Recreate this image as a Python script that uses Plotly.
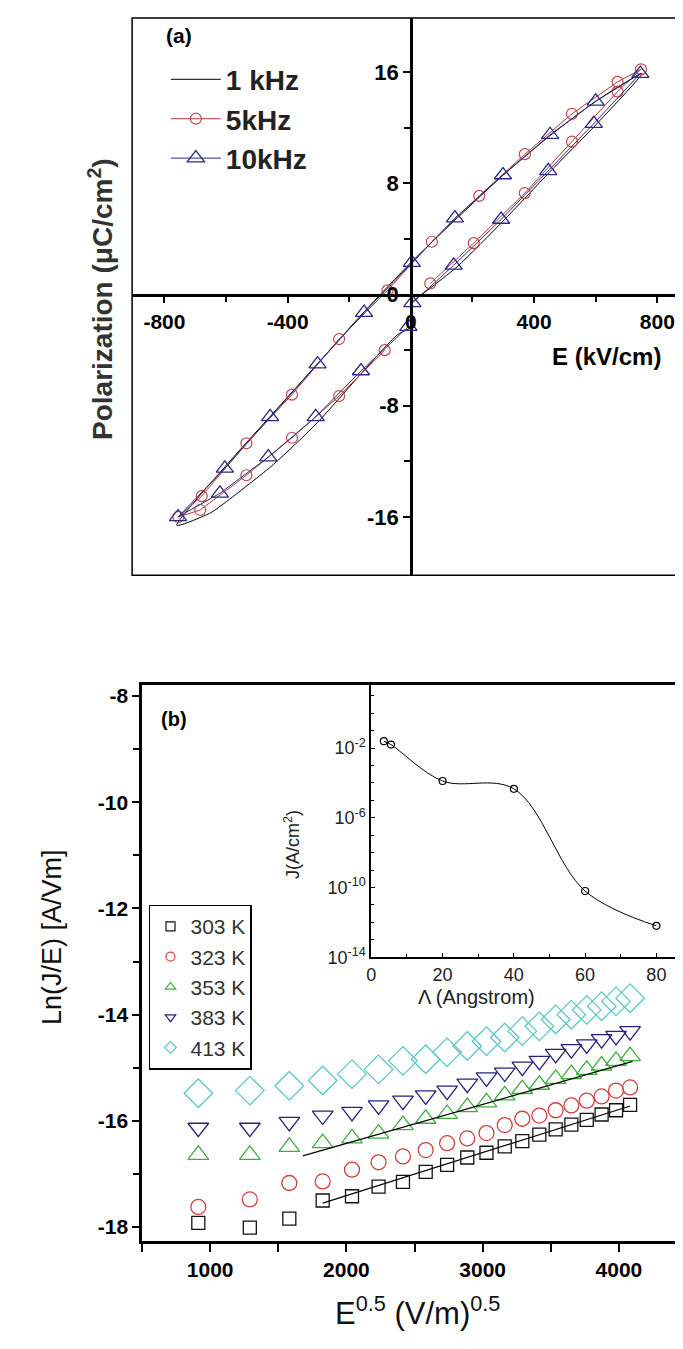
import plotly.graph_objects as go

W, H = 683, 1349
FONT = "Liberation Sans, Arial, sans-serif"

# ---------------- Panel (a): P-E hysteresis ----------------
E_1k = [0, 150, 300, 450, 600, 750, 600, 450, 300, 150, 0, -150, -300, -450, -600, -760,
        -650, -599, -445, -303, -162, -44, 0]
P_1k = [-0.6, 2.0, 5.3, 8.8, 12.2, 15.9, 13.9, 11.4, 8.6, 5.5, 2.3, -1.2, -4.9, -8.6, -12.3, -16.6,
        -15.7, -14.9, -12.2, -9.2, -5.7, -2.9, -2.4]

E_5k = [63, 204, 370, 523, 671, 747, 671, 523, 370, 222, 68, -76, -233, -386, -534, -679, -755,
        -684, -534, -386, -233, -85]
P_5k = [0.8, 3.7, 7.3, 11.0, 14.6, 16.2, 15.3, 13.0, 10.1, 7.1, 3.8, 0.3, -3.2, -7.2, -10.7, -14.5, -16.0,
        -15.5, -13.0, -10.3, -7.3, -4.0]

E_10k = [5, 139, 293, 446, 594, 745, 600, 452, 299, 143, 3, -152, -303, -457, -604, -756,
         -620, -463, -309, -162, -8]
P_10k = [-0.6, 2.1, 5.4, 8.9, 12.3, 15.9, 13.9, 11.5, 8.6, 5.5, 2.3, -1.3, -5.0, -8.8, -12.5, -16.0,
         -14.3, -11.7, -8.8, -5.5, -2.3]

a_xticks = [-800, -400, 0, 400, 800]
a_xticktext = ["-800", "-400", "0", "400", "800"]
a_yticks = [-16, -8, 0, 8, 16]
a_yticktext = ["-16", "-8", "0", "8", "16"]

# ---------------- Panel (b): Ln(J/E) vs E^0.5 ----------------
sqrtE = [913, 1291, 1581, 1826, 2041, 2236, 2415, 2582, 2739, 2887,
         3028, 3162, 3291, 3416, 3536, 3651, 3764, 3873, 3979, 4082]
ln_303 = [-17.92, -18.01, -17.84, -17.50, -17.42, -17.24, -17.15, -16.96, -16.83, -16.69,
          -16.60, -16.48, -16.38, -16.26, -16.16, -16.07, -15.98, -15.88, -15.80, -15.70]
ln_323 = [-17.62, -17.48, -17.17, -17.14, -16.92, -16.78, -16.67, -16.55, -16.42, -16.33,
          -16.23, -16.08, -15.96, -15.90, -15.80, -15.71, -15.62, -15.54, -15.43, -15.37]
ln_353 = [-16.64, -16.64, -16.49, -16.42, -16.33, -16.24, -16.08, -15.96, -15.87, -15.74,
          -15.65, -15.52, -15.40, -15.32, -15.21, -15.12, -15.04, -14.96, -14.87, -14.78]
ln_383 = [-16.13, -16.13, -16.02, -15.90, -15.83, -15.71, -15.62, -15.52, -15.43, -15.30,
          -15.18, -15.09, -14.98, -14.87, -14.74, -14.65, -14.56, -14.46, -14.40, -14.31]
ln_413 = [-15.48, -15.43, -15.34, -15.24, -15.12, -15.03, -14.87, -14.84, -14.71, -14.59,
          -14.50, -14.43, -14.31, -14.22, -14.09, -14.00, -13.91, -13.84, -13.75, -13.69]
temps = ["303 K", "323 K", "353 K", "383 K", "413 K"]

fit303_x = [1826, 4082]
fit303_y = [-17.55, -15.72]
fit353_x = [1680, 4100]
fit353_y = [-16.66, -14.88]

b_xticks = [1000, 2000, 3000, 4000]
b_yticks = [-18, -16, -14, -12, -10, -8]
b_yticktext = ["-18", "-16", "-14", "-12", "-10", "-8"]

# ---------------- Inset ----------------
lam = [3.5, 5.5, 20, 40, 60, 80]
J = [0.025, 0.016, 1.3e-4, 4.6e-5, 6.3e-11, 6.3e-13]
inset_yticks = [1e-14, 1e-10, 1e-6, 1e-2]
inset_yticktext = ["10<sup>-14</sup>", "10<sup>-10</sup>", "10<sup>-6</sup>", "10<sup>-2</sup>"]
inset_xticks = [0, 20, 40, 60, 80]


def fx(px):
    return px / W


def fy(py):
    return 1 - py / H


fig = go.Figure()

# panel a traces
fig.add_trace(go.Scatter(x=E_1k, y=P_1k, mode="lines", name="1 kHz",
                         line=dict(color="black", width=1, shape="spline", smoothing=0.6),
                         xaxis="x", yaxis="y", legend="legend", legendgroup="a1"))
fig.add_trace(go.Scatter(x=E_5k, y=P_5k, mode="lines+markers", name="5kHz",
                         line=dict(color="#b03838", width=1),
                         marker=dict(symbol="circle-open", size=11, color="#c04848", line=dict(width=1.2)),
                         xaxis="x", yaxis="y", legend="legend", legendgroup="a2"))
fig.add_trace(go.Scatter(x=E_10k, y=P_10k, mode="lines+markers", name="10kHz",
                         line=dict(color="#2a2a80", width=1),
                         marker=dict(symbol="triangle-up-open", size=15, color="#2a2a80", line=dict(width=1.3)),
                         xaxis="x", yaxis="y", legend="legend", legendgroup="a3"))

# panel b traces
series = [ln_303, ln_323, ln_353, ln_383, ln_413]
symbols = ["square-open", "circle-open", "triangle-up-open", "triangle-down-open", "diamond-open"]
colors = ["#111111", "#d04040", "#3fae3f", "#23237e", "#5cc8c8"]
sizes = [13, 15, 18, 18, 22]
for s, sym, c, sz, t in zip(series, symbols, colors, sizes, temps):
    fig.add_trace(go.Scatter(x=sqrtE, y=s, mode="markers", showlegend=False,
                             marker=dict(symbol=sym, size=sz, color=c, line=dict(width=1.3)),
                             xaxis="x2", yaxis="y2"))
for sym, c, t in zip(symbols, colors, temps):
    fig.add_trace(go.Scatter(x=[None], y=[None], mode="markers", name=t,
                             marker=dict(symbol=sym, size=9, color=c, line=dict(width=1.2)),
                             xaxis="x2", yaxis="y2", legend="legend2"))
fig.add_trace(go.Scatter(x=fit303_x, y=fit303_y, mode="lines", showlegend=False,
                         line=dict(color="black", width=1.2), xaxis="x2", yaxis="y2"))
fig.add_trace(go.Scatter(x=fit353_x, y=fit353_y, mode="lines", showlegend=False,
                         line=dict(color="black", width=1.2), xaxis="x2", yaxis="y2"))

# inset
fig.add_trace(go.Scatter(x=lam, y=J, mode="lines+markers", showlegend=False,
                         line=dict(color="black", width=1, shape="spline", smoothing=1.0),
                         marker=dict(symbol="circle-open", size=7, color="black", line=dict(width=1.2)),
                         xaxis="x3", yaxis="y3"))

# ---- axes geometry ----
ax_dom = [fx(120), fx(681)]
ay_dom = [fy(571), fy(9)]
ax_rng = [-905, 903]
ay_rng = [-20.2, 19.9]
x0_frac = (0 - ax_rng[0]) / (ax_rng[1] - ax_rng[0])
y0_frac = (0 - ay_rng[0]) / (ay_rng[1] - ay_rng[0])
x_axis_pos = ay_dom[0] + y0_frac * (ay_dom[1] - ay_dom[0])
y_axis_pos = ax_dom[0] + x0_frac * (ax_dom[1] - ax_dom[0])

xtickfont = dict(family=FONT, size=21, color="black", weight="bold")
ytickfont = dict(family=FONT, size=22, color="black", weight="bold")
insetfont = dict(family=FONT, size=18, color="#222")


def ann(text, px, py, size, bold=False, angle=0, color="black"):
    f = dict(family=FONT, size=size, color=color)
    if bold:
        f["weight"] = "bold"
    return dict(text=text, x=fx(px), y=fy(py), xref="paper", yref="paper", showarrow=False,
                xanchor="center", yanchor="middle", textangle=angle, font=f)


fig.update_layout(
    width=W, height=H,
    margin=dict(l=0, r=0, t=0, b=0),
    paper_bgcolor="white", plot_bgcolor="rgba(0,0,0,0)",
    font=dict(family=FONT, color="black"),
    xaxis=dict(domain=ax_dom, range=ax_rng, anchor="free", position=x_axis_pos,
               showline=True, linecolor="black", linewidth=2.5, showgrid=False, zeroline=False,
               tickmode="array", tickvals=a_xticks, ticktext=a_xticktext, ticks="outside",
               ticklen=7, tickwidth=2, tickcolor="black", tickfont=xtickfont,
               minor=dict(tickvals=[-600, -200, 200, 600], ticks="outside", ticklen=6,
                          tickwidth=2, tickcolor="black")),
    yaxis=dict(domain=ay_dom, range=ay_rng, anchor="free", position=y_axis_pos,
               showline=True, linecolor="black", linewidth=2.5, showgrid=False, zeroline=False,
               tickmode="array", tickvals=a_yticks, ticktext=a_yticktext, ticks="outside",
               ticklen=7, tickwidth=2, tickcolor="black", tickfont=ytickfont,
               minor=dict(tickvals=[-12, -4, 4, 12], ticks="outside", ticklen=6,
                          tickwidth=2, tickcolor="black")),
    xaxis2=dict(domain=[fx(130), fx(679)], range=[500, 4500], anchor="y2",
                showline=True, linecolor="black", linewidth=2.5, mirror=True,
                showgrid=False, zeroline=False, tickmode="array", tickvals=b_xticks,
                ticks="outside", ticklen=8, tickwidth=2, tickcolor="black", tickfont=xtickfont,
                minor=dict(tickvals=[500, 1500, 2500, 3500, 4500], ticks="outside", ticklen=8,
                           tickwidth=2, tickcolor="black")),
    yaxis2=dict(domain=[fy(1242), fy(682)], range=[-18.26, -7.8], anchor="x2",
                showline=True, linecolor="black", linewidth=2.5, mirror=True,
                showgrid=False, zeroline=False, tickmode="array", tickvals=b_yticks,
                ticktext=b_yticktext, ticks="outside", ticklen=7, tickwidth=2,
                tickcolor="black", tickfont=xtickfont,
                minor=dict(tickvals=[-17, -15, -13, -11, -9], ticks="outside", ticklen=6,
                           tickwidth=2, tickcolor="black")),
    xaxis3=dict(domain=[fx(361), fx(679)], range=[0, 88.6], anchor="y3",
                showline=True, linecolor="black", linewidth=2, showgrid=False, zeroline=False,
                tickmode="array", tickvals=inset_xticks, ticks="inside", ticklen=4, tickwidth=1,
                tickcolor="black", tickfont=insetfont,
                minor=dict(tickvals=[10, 30, 50, 70], ticks="inside", ticklen=3, tickwidth=1,
                           tickcolor="black")),
    yaxis3=dict(domain=[fy(956), fy(682)], type="log", range=[-14, 1.6], anchor="x3",
                showline=True, linecolor="black", linewidth=2, showgrid=False, zeroline=False,
                tickmode="array", tickvals=inset_yticks, ticktext=inset_yticktext,
                ticks="inside", ticklen=4, tickwidth=1, tickcolor="black",
                tickfont=insetfont,
                minor=dict(tickvals=[1e-13, 1e-12, 1e-11, 1e-9, 1e-8, 1e-7, 1e-5, 1e-4, 1e-3, 1e-1, 1, 10],
                           ticks="inside", ticklen=3, tickwidth=1, tickcolor="black")),
    legend=dict(x=fx(154), y=fy(46), xanchor="left", yanchor="top",
                bgcolor="rgba(0,0,0,0)", borderwidth=0, tracegroupgap=0, itemwidth=50,
                font=dict(family=FONT, size=28, color="#222", weight="bold")),
    legend2=dict(x=fx(137), y=fy(903), xanchor="left", yanchor="top",
                 bgcolor="rgba(255,255,255,0)", bordercolor="black", borderwidth=1.5,
                 font=dict(family=FONT, size=21, color="#333"), itemwidth=30),
    shapes=[dict(type="rect", xref="x domain", yref="y domain", x0=0, x1=1, y0=0, y1=1,
                 line=dict(color="black", width=1.5))],
    annotations=[
        ann("(a)", 167, 27, 21, bold=True),
        ann("E (kV/cm)", 598, 350, 24, bold=True),
        ann("Polarization (\u03bcC/cm<sup>2</sup>)", 88, 292, 28, bold=True, angle=-90, color="#333"),
        ann("(b)", 162, 716, 20, bold=True),
        ann("Ln(J/E) [A/Vm]", 40, 936, 27, angle=-90, color="#111"),
        ann("E<sup>0.5</sup> (V/m)<sup>0.5</sup>", 407, 1313, 31, color="#111"),
        ann("J(A/cm<sup>2</sup>)", 281, 842, 18, angle=-90, color="#222"),
        ann("\u039b (Angstrom)", 467, 996, 20, color="#222"),
    ],
)

fig.write_html("out.html")
